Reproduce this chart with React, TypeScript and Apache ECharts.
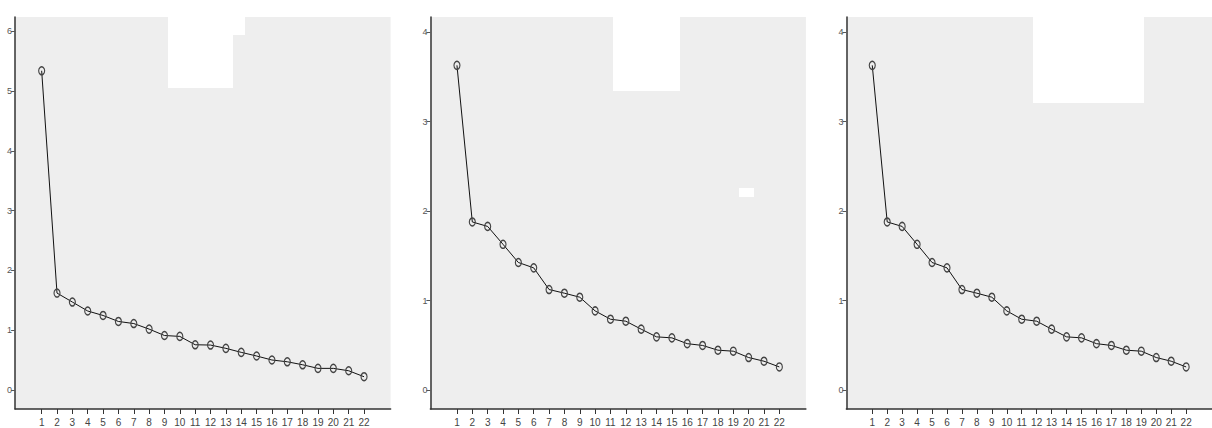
import React, { useEffect, useRef } from "react";
import * as echarts from "echarts";

const components = ["1","2","3","4","5","6","7","8","9","10","11","12","13","14","15","16","17","18","19","20","21","22"];
const eigen1 = [5.34, 1.62, 1.47, 1.32, 1.245, 1.145, 1.11, 1.017, 0.91, 0.895, 0.755, 0.75, 0.695, 0.628, 0.567, 0.5, 0.47, 0.42, 0.36, 0.36, 0.32, 0.22];
const eigen2 = [3.63, 1.88, 1.83, 1.63, 1.427, 1.367, 1.125, 1.084, 1.039, 0.886, 0.793, 0.771, 0.682, 0.596, 0.585, 0.52, 0.5, 0.447, 0.436, 0.365, 0.324, 0.26];
const eigen3 = [3.63, 1.88, 1.83, 1.63, 1.427, 1.367, 1.125, 1.084, 1.039, 0.886, 0.793, 0.771, 0.682, 0.596, 0.585, 0.52, 0.5, 0.447, 0.436, 0.365, 0.324, 0.26];
const yTicks1 = [0, 1, 2, 3, 4, 5, 6];
const yTicks2 = [0, 1, 2, 3, 4];
const xTicks = components.map((c) => Number(c));

const FONT = "'Liberation Sans Narrow', 'Liberation Sans', Arial, sans-serif";

export default function App() {
  const ref = useRef<HTMLDivElement>(null);
  useEffect(() => {
    if (!ref.current) return;
    const chart = echarts.init(ref.current, null, { renderer: "svg" });
    const panels = [
      { left: 15.1, data: eigen1, ymin: -0.32, ymax: 6.24, ticks: yTicks1 },
      { left: 430.4, data: eigen2, ymin: -0.21, ymax: 4.17, ticks: yTicks2 },
      { left: 846.4, data: eigen3, ymin: -0.21, ymax: 4.17, ticks: yTicks2 },
    ];
    const grid = panels.map((p) => ({
      left: p.left,
      top: 17,
      width: 375.5,
      height: 392,
      show: true,
      backgroundColor: "#eeeeee",
      borderWidth: 0,
    }));
    const xAxis = panels.map((p, i) => ({
      type: "value",
      gridIndex: i,
      min: -0.73,
      max: 23.73,
      splitLine: { show: false },
      axisLine: { show: true, onZero: false, lineStyle: { color: "#333", width: 1.5 } },
      axisTick: { show: true, length: 5, customValues: xTicks, lineStyle: { color: "#333", width: 1 } },
      axisLabel: { customValues: xTicks, margin: 8, fontSize: 10, color: "#444", fontFamily: FONT },
    }));
    const yAxis = panels.map((p, i) => ({
      type: "value",
      gridIndex: i,
      min: p.ymin,
      max: p.ymax,
      splitLine: { show: false },
      axisLine: { show: true, onZero: false, lineStyle: { color: "#333", width: 1.5 } },
      axisTick: { show: true, length: 4, customValues: p.ticks, lineStyle: { color: "#555", width: 1 } },
      axisLabel: { customValues: p.ticks, margin: 3, fontSize: 9, color: "#555", fontFamily: FONT },
    }));
    const series = panels.map((p, i) => ({
      type: "line",
      xAxisIndex: i,
      yAxisIndex: i,
      data: p.data.map((v, k) => [xTicks[k], v]),
      lineStyle: { color: "#111", width: 1 },
      symbol: "circle",
      symbolSize: [6, 8],
      itemStyle: { color: "rgba(0,0,0,0)", borderColor: "#444", borderWidth: 1.3 },
      z: 3,
    }));
    chart.setOption({
      animation: false,
      grid,
      xAxis,
      yAxis,
      series,
      graphic: [
        { type: "rect", z: 10, shape: { x: 168, y: 17, width: 65, height: 71 }, style: { fill: "#ffffff" } },
        { type: "rect", z: 10, shape: { x: 232, y: 17, width: 13, height: 18 }, style: { fill: "#ffffff" } },
        { type: "rect", z: 10, shape: { x: 613, y: 17, width: 67, height: 74 }, style: { fill: "#ffffff" } },
        { type: "rect", z: 10, shape: { x: 739, y: 188, width: 15, height: 9 }, style: { fill: "#ffffff" } },
        { type: "rect", z: 10, shape: { x: 1033, y: 17, width: 111, height: 86 }, style: { fill: "#ffffff" } },
      ],
    });
    return () => chart.dispose();
  }, []);
  return <div ref={ref} style={{ position: "absolute", left: 0, top: 0, width: 1212, height: 428 }} />;
}
